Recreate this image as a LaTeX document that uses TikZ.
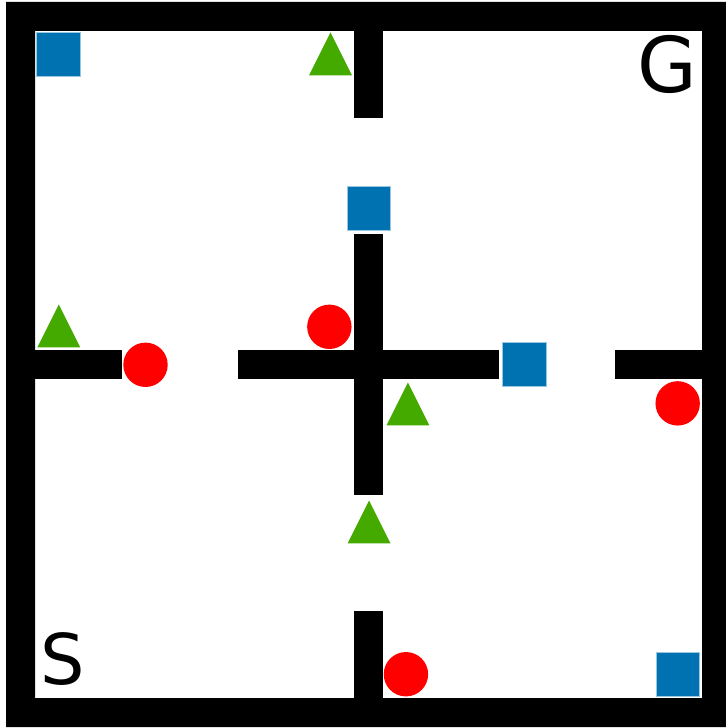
\documentclass[tikz,border=0pt]{standalone}
\usepackage{fontspec}
\setmainfont{DejaVu Sans}
\definecolor{keyblue}{RGB}{0,114,178}
\definecolor{keygreen}{RGB}{68,170,0}
\definecolor{keyred}{RGB}{255,0,0}

\begin{document}
\begin{tikzpicture}[x=14.5pt, y=-14.5pt,
  keysq/.style={rectangle, fill=keyblue, draw=keyblue!40, line width=0.3pt, minimum size=21.8pt, inner sep=0pt},
  keydot/.style={circle, fill=keyred, minimum size=22.2pt, inner sep=0pt},
  keytri/.pic={\fill[keygreen] (-0.74,0.74) -- (0,-0.74) -- (0.74,0.74) -- cycle;}]
\useasboundingbox (-0.207,-0.069) rectangle (24.793,25.034);

% Outer walls
\fill[even odd rule] (0,0) rectangle (25,25) (1,1) rectangle (24,24);
% Inner walls (vertical)
\fill (12,1) rectangle (13,4);
\fill (12,8) rectangle (13,17);
\fill (12,21) rectangle (13,24);
% Inner walls (horizontal)
\fill (1,12) rectangle (4,13);
\fill (8,12) rectangle (17,13);
\fill (21,12) rectangle (24,13);

% Start and goal
\node[anchor=base east, inner sep=0pt, font=\fontsize{38.5}{40}\selectfont] (goal) at (23.84,3.12) {G};
\node[anchor=base west, inner sep=0pt, font=\fontsize{35}{40}\selectfont] (start) at (1.18,23.52) {S};

% Blue squares
\node[keysq] (sq1) at (1.81,1.80) {};
\node[keysq] (sq2) at (12.51,7.12) {};
\node[keysq] (sq3) at (17.88,12.50) {};
\node[keysq] (sq4) at (23.17,23.18) {};

% Red circles
\node[keydot] (dot1) at (4.81,12.51) {};
\node[keydot] (dot2) at (11.15,11.20) {};
\node[keydot] (dot3) at (23.16,13.84) {};
\node[keydot] (dot4) at (13.79,23.18) {};

% Green triangles
\pic (tri1) at (11.19,1.79) {keytri};
\pic (tri2) at (1.82,11.17) {keytri};
\pic (tri3) at (13.86,13.86) {keytri};
\pic (tri4) at (12.52,17.93) {keytri};
\end{tikzpicture}
\end{document}
